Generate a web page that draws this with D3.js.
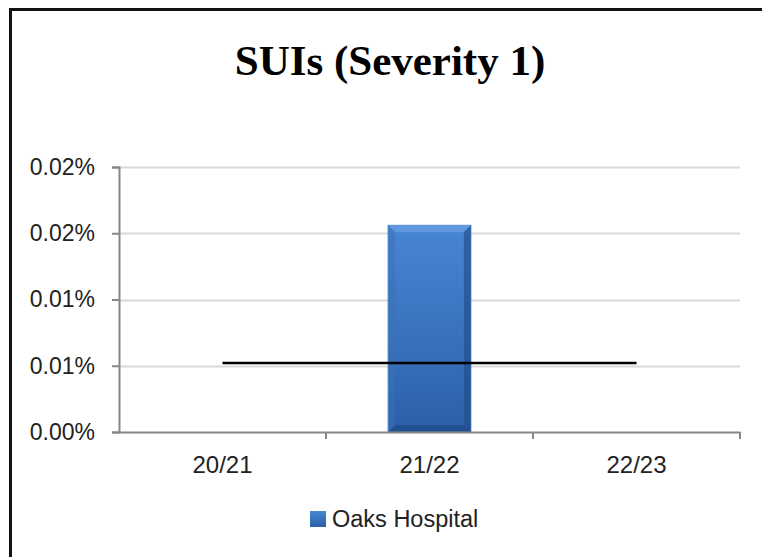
<!DOCTYPE html>
<html>
<head>
<meta charset="utf-8">
<script src="https://cdn.jsdelivr.net/npm/d3@7"></script>
<style>
  html, body { margin: 0; padding: 0; background: #fff; overflow: hidden; }
  svg { display: block; }
</style>
</head>
<body>
<div id="chart"></div>
<script>
// chart data
const categories = ['20/21', '21/22', '22/23']
const seriesName = 'Oaks Hospital'
const oaksValues = [0, 0.0156, 0]          // percent
const averageValues = [0.0052, 0.0052, 0.0052]
const yTicks = [0, 0.005, 0.01, 0.015, 0.02]
const yTickLabels = ['0.00%', '0.01%', '0.01%', '0.02%', '0.02%']
const titleText = 'SUIs (Severity 1)'

const width = 762, height = 557
const margin = {top: 167, right: 22, bottom: 125, left: 119}

const svg = d3.select('#chart').append('svg')
  .attr('width', width)
  .attr('height', height)

// frame: only top and left edges are inside the picture
svg.append('path')
  .attr('d', `M10.5,${height} L10.5,9.5 L${width},9.5`)
  .attr('fill', 'none')
  .attr('stroke', '#111')
  .attr('stroke-width', 3)

const defs = svg.append('defs')
const grad = defs.append('linearGradient')
  .attr('id', 'barGrad').attr('x1', 0).attr('y1', 0).attr('x2', 0).attr('y2', 1)
grad.append('stop').attr('offset', '0%').attr('stop-color', '#4786d4')
grad.append('stop').attr('offset', '100%').attr('stop-color', '#2c60a8')

svg.append('text')
  .attr('x', 390).attr('y', 75)
  .attr('text-anchor', 'middle')
  .style('font-family', '"Liberation Serif", "DejaVu Serif", serif')
  .style('font-weight', 'bold')
  .style('font-size', '43px')
  .style('fill', '#000')
  .text(titleText)

const x = d3.scaleBand()
  .domain(categories)
  .range([margin.left, width - margin.right])
  .paddingInner(0).paddingOuter(0)

const y = d3.scaleLinear()
  .domain([0, 0.02])
  .range([height - margin.bottom, margin.top])

const g = svg.append('g')

// gridlines
g.selectAll('.grid')
  .data(yTicks.slice(1))
  .enter().append('line')
  .attr('class', 'grid')
  .attr('x1', margin.left).attr('x2', width - margin.right)
  .attr('y1', d => Math.round(y(d)) + 0.5).attr('y2', d => Math.round(y(d)) + 0.5)
  .attr('stroke', '#d9d9d9').attr('stroke-width', 2)

// bars
const barW = x.bandwidth() / 2.5
const bars = g.selectAll('.bar')
  .data(oaksValues.map((v, i) => ({cat: categories[i], v: v})).filter(d => d.v > 0))
  .enter().append('g')
  .attr('class', 'bar')

bars.append('rect')
  .attr('x', d => x(d.cat) + (x.bandwidth() - barW) / 2)
  .attr('y', d => y(d.v))
  .attr('width', barW)
  .attr('height', d => y(0) - y(d.v))
  .attr('fill', 'url(#barGrad)')
  .attr('stroke', '#5b8fd0').attr('stroke-width', 1)

// bevel edges
const bev = 7
bars.each(function(d) {
  const x0 = x(d.cat) + (x.bandwidth() - barW) / 2, x1 = x0 + barW
  const y0 = y(d.v), y1 = y(0)
  const b = d3.select(this)
  b.append('path')
    .attr('d', `M${x0},${y0} L${x1},${y0} L${x1 - bev},${y0 + bev} L${x0 + bev},${y0 + bev} Z`)
    .attr('fill', '#6aa0e2').attr('opacity', 0.7)
  b.append('path')
    .attr('d', `M${x0},${y0} L${x0 + bev},${y0 + bev} L${x0 + bev},${y1 - bev} L${x0},${y1} Z`)
    .attr('fill', '#3a70b8').attr('opacity', 0.5)
  b.append('path')
    .attr('d', `M${x1},${y0} L${x1 - bev},${y0 + bev} L${x1 - bev},${y1 - bev} L${x1},${y1} Z`)
    .attr('fill', '#1f4a85').attr('opacity', 0.6)
  b.append('path')
    .attr('d', `M${x0},${y1} L${x0 + bev},${y1 - bev} L${x1 - bev},${y1 - bev} L${x1},${y1} Z`)
    .attr('fill', '#1d4680').attr('opacity', 0.6)
})

// average line
const line = d3.line()
  .x((d, i) => x(categories[i]) + x.bandwidth() / 2)
  .y(d => y(d))
g.append('path')
  .datum(averageValues)
  .attr('d', line)
  .attr('fill', 'none')
  .attr('stroke', '#000')
  .attr('stroke-width', 2.5)

// axes
const yAxis = d3.axisLeft(y)
  .tickValues(yTicks)
  .tickFormat((d, i) => yTickLabels[i])
  .tickSizeOuter(0).tickSize(7).tickPadding(17)
const ya = svg.append('g')
  .attr('transform', `translate(${margin.left},0)`)
  .call(yAxis)

const xAxis = d3.axisBottom(x).tickSize(0).tickPadding(24).tickSizeOuter(0)
const xa = svg.append('g')
  .attr('transform', `translate(0,${y(0)})`)
  .call(xAxis)

// category boundary ticks
xa.selectAll('.bound')
  .data(categories.slice(1).concat(['end']))
  .enter().append('line')
  .attr('class', 'bound')
  .attr('x1', d => d === 'end' ? width - margin.right : x(d))
  .attr('x2', d => d === 'end' ? width - margin.right : x(d))
  .attr('y1', 0).attr('y2', 7)
  .attr('stroke', '#868686').attr('stroke-width', 2)

svg.selectAll('.domain').attr('stroke', '#868686').attr('stroke-width', 2)
ya.selectAll('.tick line').attr('stroke', '#868686').attr('stroke-width', 2)
svg.selectAll('.tick text')
  .style('font-family', '"Liberation Sans", Arial, sans-serif')
  .style('fill', '#222')
ya.selectAll('.tick text').style('font-size', '23px')
xa.selectAll('.tick text').style('font-size', '24px')

// legend
const legend = svg.append('g').attr('transform', 'translate(310,511)')
legend.append('rect')
  .attr('width', 16).attr('height', 16)
  .attr('fill', 'url(#barGrad)')
legend.append('text')
  .attr('x', 22).attr('y', 16)
  .style('font-family', '"Liberation Sans", Arial, sans-serif')
  .style('font-size', '23.5px')
  .style('fill', '#222')
  .text(seriesName)
</script>
</body>
</html>
